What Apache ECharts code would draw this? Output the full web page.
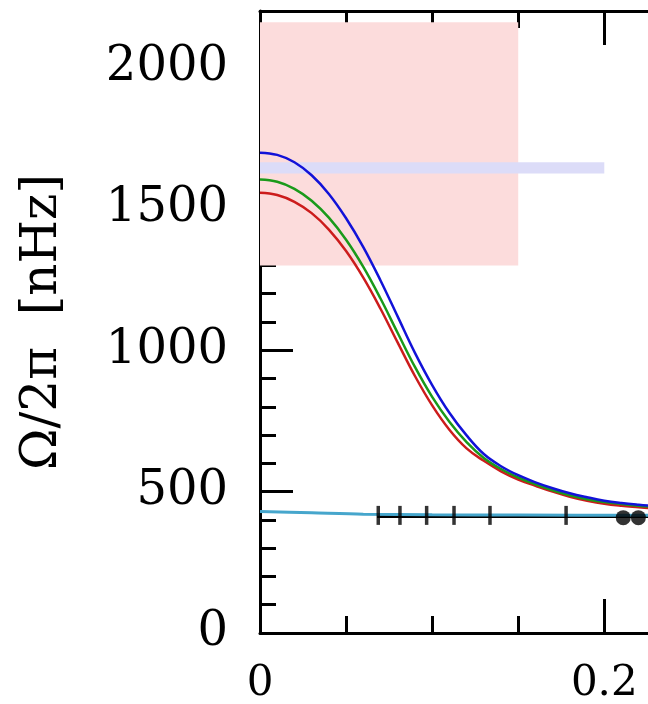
<!DOCTYPE html>
<html>
<head>
<meta charset="utf-8">
<script src="https://cdn.jsdelivr.net/npm/echarts@6/dist/echarts.min.js"></script>
<style>
  html, body { margin: 0; padding: 0; background: #fff; }
  #chart { width: 648px; height: 704px; }
</style>
</head>
<body>
<div id="chart"></div>
<script>
// x positions shared by the three curves
const xGrid = [0, 0.01, 0.02, 0.03, 0.04, 0.05, 0.06, 0.07, 0.08, 0.09, 0.10, 0.11,
  0.12, 0.13, 0.14, 0.15, 0.16, 0.17, 0.18, 0.19, 0.20, 0.21, 0.22, 0.23];
const blueVals = [1699, 1691, 1665, 1619, 1553, 1467, 1365, 1247, 1119, 991, 877, 779,
  699, 633, 590, 558, 533, 512, 494, 480, 468, 460, 454, 449];
const greenVals = [1604, 1596, 1571, 1529, 1469, 1391, 1295, 1183, 1061, 941, 835, 747,
  675, 619, 580, 550, 526, 505, 487, 473, 463, 456, 450, 445];
const redVals = [1557, 1549, 1525, 1485, 1427, 1351, 1257, 1147, 1027, 909, 805, 719,
  653, 609, 572, 543, 521, 500, 482, 468, 457, 450, 445, 440];

// nearly flat cyan line and the black line under it
const cyanX = [0, 0.03, 0.06, 0.1, 0.15, 0.23];
const cyanY = [430, 425, 420, 418, 417, 416];
const blackX = [0.068, 0.3];
const blackY = [412, 412];

// short vertical marks and the two dots
const markX = [0.0687, 0.0813, 0.0968, 0.1127, 0.1336, 0.1778];
const markY = 416;
const dotX = [0.2110, 0.2198];
const dotY = 408;

// shaded boxes [x0, x1, y0, y1]
const pinkBox = [0, 0.15, 1300, 2160];
const blueBand = [0, 0.2, 1625, 1665];

const yTicks = [0, 500, 1000, 1500, 2000];

const zip = (xs, ys) => xs.map((x, i) => [x, ys[i]]);

const FONT = 'DejaVu Serif';
const chart = echarts.init(document.getElementById('chart'));

const axisLine = { show: true, onZero: false, lineStyle: { color: '#000', width: 3 } };

chart.setOption({
  animation: false,
  backgroundColor: '#fff',
  grid: { left: 260, top: 11, bottom: 71, right: -300.6, containLabel: false, outerBoundsMode: 'none' },
  xAxis: [
    {
      type: 'value', min: 0, max: 0.4, interval: 0.2, position: 'bottom',
      axisLine: axisLine,
      axisTick: { inside: true, length: 34, lineStyle: { color: '#000', width: 3 } },
      minorTick: { show: true, splitNumber: 4, length: 17, lineStyle: { color: '#000', width: 3 } },
      axisLabel: { fontFamily: FONT, fontSize: 42, color: '#000', margin: 30,
        formatter: v => (v === 0 ? '0' : String(v)) },
      splitLine: { show: false }, minorSplitLine: { show: false }
    },
    {
      type: 'value', min: 0, max: 0.4, interval: 0.2, position: 'top',
      axisLine: axisLine,
      axisTick: { inside: true, length: 34, lineStyle: { color: '#000', width: 3 } },
      minorTick: { show: true, splitNumber: 4, length: 17, lineStyle: { color: '#000', width: 3 } },
      axisLabel: { show: false },
      splitLine: { show: false }, minorSplitLine: { show: false }
    }
  ],
  yAxis: [
    {
      type: 'value', min: 0, max: 2200, interval: 500, position: 'left',
      name: 'Ω/2π  [nHz]', nameLocation: 'middle', nameGap: 192, nameRotate: 90,
      nameTextStyle: { fontFamily: FONT, fontSize: 50, color: '#000' },
      axisLine: axisLine,
      axisTick: { inside: true, length: 33, lineStyle: { color: '#000', width: 3 } },
      axisLabel: { fontFamily: FONT, fontSize: 48, color: '#000', margin: 32, showMaxLabel: false,
        formatter: v => (yTicks.includes(v) ? String(v) : '') },
      splitLine: { show: false }
    },
    {
      type: 'value', min: 0, max: 2200, interval: 100, position: 'left',
      axisLine: { show: false },
      axisTick: { inside: true, length: 16, lineStyle: { color: '#000', width: 3 } },
      axisLabel: { show: false },
      splitLine: { show: false }
    }
  ],
  series: [
    {
      type: 'line', data: [], z: 1, silent: true,
      markArea: {
        silent: true,
        data: [
          [{ coord: [pinkBox[0], pinkBox[2]], itemStyle: { color: '#fcdcdc' } }, { coord: [pinkBox[1], pinkBox[3]] }],
          [{ coord: [blueBand[0], blueBand[2]], itemStyle: { color: '#dcdcf8' } }, { coord: [blueBand[1], blueBand[3]] }]
        ]
      }
    },
    { type: 'line', data: zip(blackX, blackY), showSymbol: false, z: 3,
      lineStyle: { color: '#000', width: 3 } },
    { type: 'line', data: zip(cyanX, cyanY), showSymbol: false, smooth: 0.3, z: 4,
      lineStyle: { color: '#46a6cc', width: 3 } },
    { type: 'line', data: zip(xGrid, redVals), showSymbol: false, smooth: 0.4, z: 5,
      lineStyle: { color: '#cc1c1c', width: 2.5 } },
    { type: 'line', data: zip(xGrid, greenVals), showSymbol: false, smooth: 0.4, z: 6,
      lineStyle: { color: '#1a9a1a', width: 2.5 } },
    { type: 'line', data: zip(xGrid, blueVals), showSymbol: false, smooth: 0.4, z: 7,
      lineStyle: { color: '#1212d8', width: 2.5 } },
    { type: 'scatter', data: markX.map(x => [x, markY]), symbol: 'rect', symbolSize: [3.5, 19], z: 8,
      itemStyle: { color: '#000' } },
    { type: 'scatter', data: dotX.map(x => [x, dotY]), symbol: 'circle', symbolSize: 15, z: 8,
      itemStyle: { color: '#000' } }
  ]
});
</script>
</body>
</html>
